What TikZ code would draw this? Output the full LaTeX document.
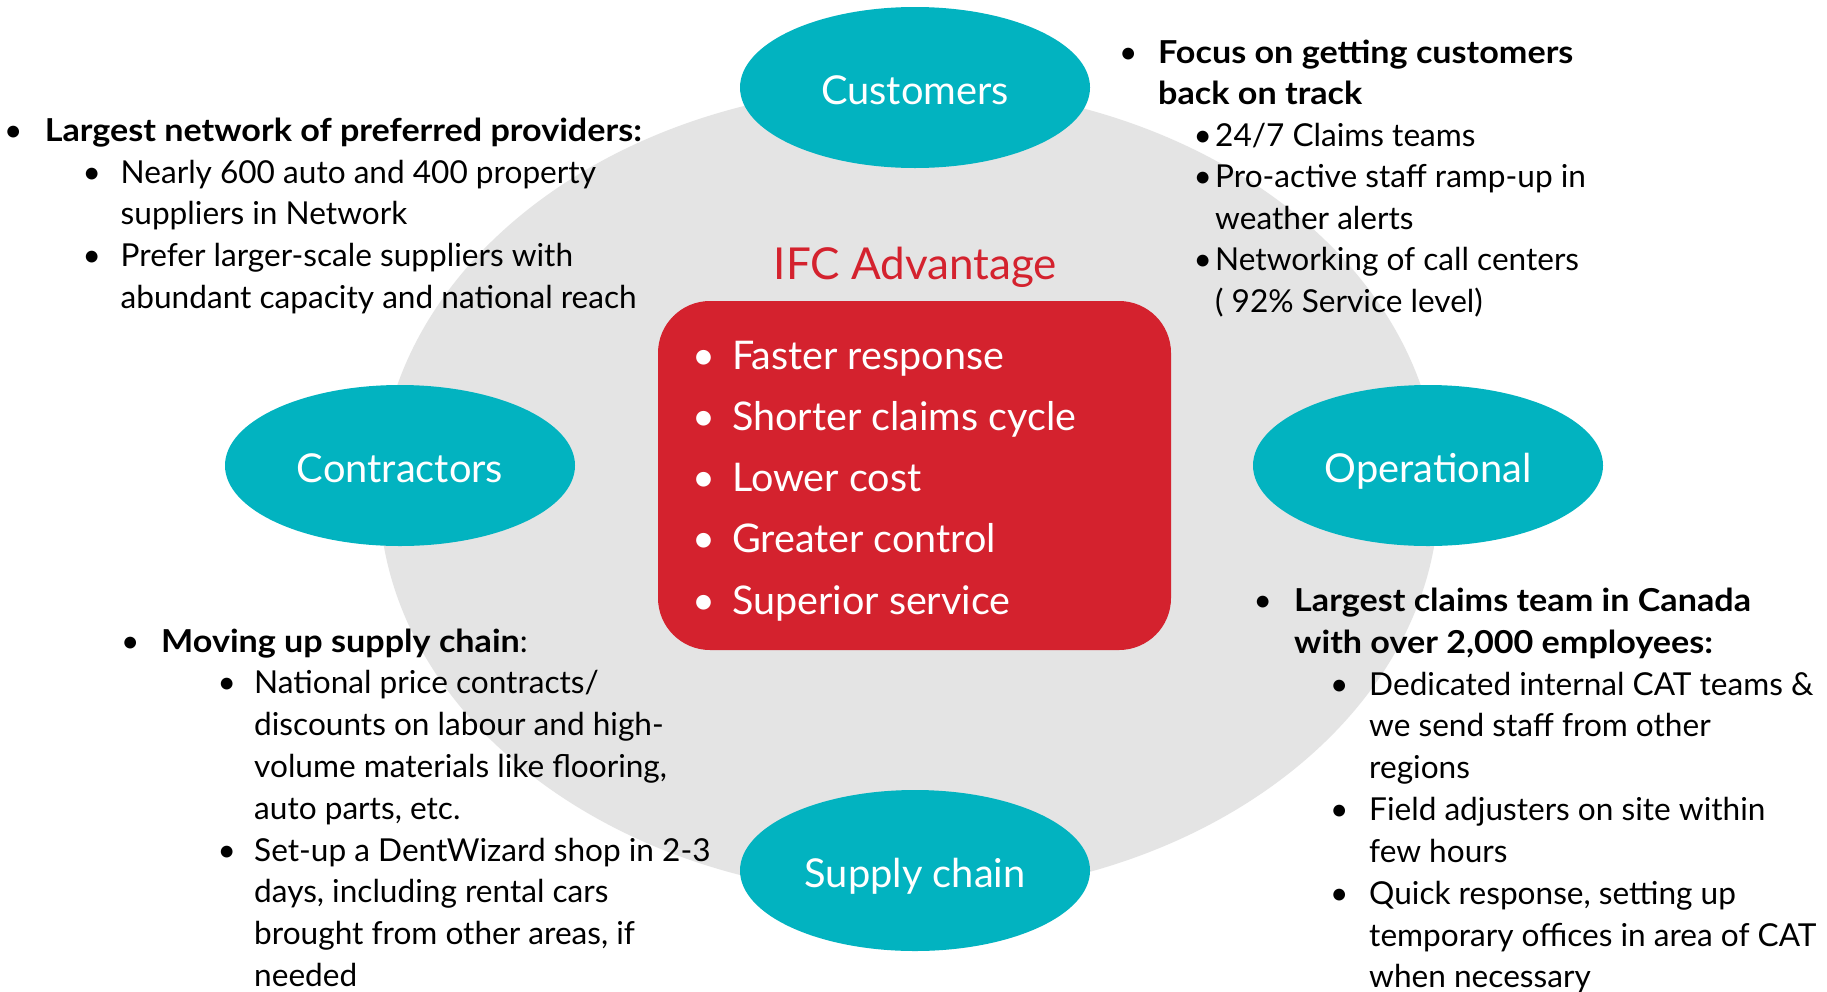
\documentclass[tikz,border=0pt]{standalone}
\usepackage{fontspec}
\setmainfont{Lato}[BoldFeatures={FakeStretch=1.08}]
\usetikzlibrary{shapes.geometric}
\definecolor{ovalteal}{RGB}{2,179,192}
\definecolor{boxred}{RGB}{212,34,46}
\definecolor{ringgray}{RGB}{228,228,228}
% bullet hung to the left of the line start, centred in a box of width #1
\newcommand{\bu}[1]{\llap{\makebox[#1][c]{\textbullet}}}
\begin{document}
\begin{tikzpicture}[x=1pt,y=-1pt,
  oval/.style={ellipse, fill=ovalteal, minimum width=350pt, minimum height=161pt,
    inner sep=0pt, text=white, font=\fontsize{39.8}{46}\selectfont,
    text height=33pt, text depth=0pt},
  body/.style={inner sep=0pt, anchor=base west, font=\fontsize{31.6}{38}\selectfont},
  adv/.style={inner sep=0pt, anchor=base west, text=white, font=\fontsize{39.5}{46}\selectfont}]
\useasboundingbox (0,0) rectangle (1827,991);
\fill[white] (0,0) rectangle (1827,991);

% background ring
\node[ellipse, fill=ringgray, minimum width=1060pt, minimum height=810pt, inner sep=0pt] (ring) at (909,491) {};

% central advantage box
\node[fill=boxred, rounded corners=52pt, minimum width=513pt, minimum height=349pt, inner sep=0pt] (advbox) at (914.5,475.5) {};
\node[inner sep=0pt, anchor=base, text=boxred, font=\fontsize{44}{50}\selectfont] (title) at (915.5,279) {IFC Advantage};
\node[adv] (a1) at (732,369)   {\bu{56pt}Faster response};
\node[adv] (a2) at (732,430.3) {\bu{56pt}Shorter claims cycle};
\node[adv] (a3) at (732,491.6) {\bu{56pt}Lower cost};
\node[adv] (a4) at (732,552.9) {\bu{56pt}Greater control};
\node[adv] (a5) at (732,614.2) {\bu{56pt}Superior service};

% four stakeholder ovals
\node[oval] (customers)   at (915,87.5)  {Customers};
\node[oval] (contractors) at (400,465.5) {Contractors};
\node[oval] (operational) at (1428,465.5) {Operational};
\node[oval] (supply)      at (915,870.5) {Supply chain};

% top left notes
\node[body] (tl1) at (44.6,141)   {\bu{63pt}\textbf{Largest network of preferred providers:}};
\node[body] (tl2) at (120.5,183)  {\bu{58pt}Nearly 600 auto and 400 property};
\node[body] (tl3) at (120.5,224.5){suppliers in Network};
\node[body] (tl4) at (120.5,266.5){\bu{58pt}Prefer larger-scale suppliers with};
\node[body] (tl5) at (120.5,308)  {abundant capacity and national reach};

% top right notes
\node[body] (tr1) at (1158,63)    {\bu{60pt}\textbf{Focus on getting customers}};
\node[body] (tr2) at (1158,104.5) {\textbf{back on track}};
\node[body] (tr3) at (1215,146)   {\bu{25pt}24/7 Claims teams};
\node[body] (tr4) at (1215,187.5) {\bu{25pt}Pro-active staff ramp-up in};
\node[body] (tr5) at (1215,229)   {weather alerts};
\node[body] (tr6) at (1215,270.5) {\bu{25pt}Networking of call centers};
\node[body] (tr7) at (1215,312)   {( 92\% Service level)};

% bottom left notes
\node[body] (bl1) at (161,652)    {\bu{62pt}\textbf{Moving up supply chain}:};
\node[body] (bl2) at (254,693.8)  {\bu{55pt}National price contracts/};
\node[body] (bl3) at (254,735.6)  {discounts on labour and high-};
\node[body] (bl4) at (254,777.4)  {volume materials like flooring,};
\node[body] (bl5) at (254,819.2)  {auto parts, etc.};
\node[body] (bl6) at (254,861)    {\bu{55pt}Set-up a DentWizard shop in 2-3};
\node[body] (bl7) at (254,902.8)  {days, including rental cars};
\node[body] (bl8) at (254,944.6)  {brought from other areas, if};
\node[body] (bl9) at (254,986.4)  {needed};

% bottom right notes
\node[body] (br1) at (1294,611.5) {\bu{63pt}\textbf{Largest claims team in Canada}};
\node[body] (br2) at (1294,653.3) {\textbf{with over 2,000 employees:}};
\node[body] (br3) at (1369,695)   {\bu{60pt}Dedicated internal CAT teams \&};
\node[body] (br4) at (1369,736.9) {we send staff from other};
\node[body] (br5) at (1369,778.7) {regions};
\node[body] (br6) at (1369,820.5) {\bu{60pt}Field adjusters on site within};
\node[body] (br7) at (1369,862.3) {few hours};
\node[body] (br8) at (1369,904)   {\bu{60pt}Quick response, setting up};
\node[body] (br9) at (1369,946)   {temporary offices in area of CAT};
\node[body] (br10) at (1369,987.7){when necessary};
\end{tikzpicture}
\end{document}
